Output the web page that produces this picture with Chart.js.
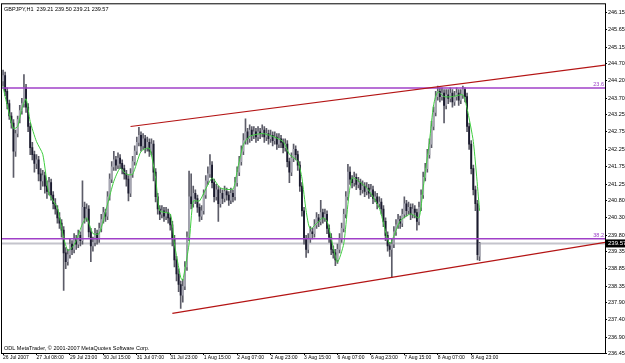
<!DOCTYPE html>
<html>
<head>
<meta charset="utf-8">
<script src="https://cdn.jsdelivr.net/npm/chart.js@4.4.1/dist/chart.umd.min.js"></script>
<style>
  html, body { margin: 0; padding: 0; background: #fff; }
  canvas { display: block; }
</style>
</head>
<body>
<canvas id="gbpChart" width="625" height="363"></canvas>
<script>
// GBPJPY H1 bars (index 0 = first bar on the left)
const opens = [
  244.20,244.35,243.90,243.55,243.20,243.00,242.20,242.70,243.10,243.35,
  243.55,244.00,243.45,242.90,242.30,242.10,241.85,241.95,241.55,241.35,
  241.50,241.20,241.05,241.30,240.95,240.70,240.55,240.30,240.15,239.95,
  239.30,239.05,239.25,239.55,239.40,239.70,239.55,239.80,239.65,240.60,
  240.30,240.55,239.90,239.50,239.60,239.85,239.70,240.00,240.25,240.45,
  240.35,240.90,241.40,241.75,241.95,241.80,242.00,241.85,241.70,241.55,
  241.40,241.00,241.55,241.90,242.20,242.45,242.65,242.35,242.55,242.30,
  242.45,242.20,242.40,241.60,240.90,240.55,240.40,240.50,240.35,240.45,
  240.30,240.10,239.70,239.10,238.70,238.40,238.10,238.35,238.90,239.75,
  240.90,240.70,241.00,240.85,240.60,240.35,240.50,240.95,241.35,241.55,
  241.80,241.30,240.90,241.10,240.70,241.00,240.85,241.05,240.95,240.80,
  241.00,240.90,241.30,241.60,241.90,242.20,242.50,242.75,242.55,242.80,
  242.65,242.75,242.60,242.75,242.70,242.80,242.60,242.70,242.55,242.65,
  242.50,242.60,242.40,242.55,242.45,242.30,242.40,241.90,241.60,242.00,
  242.25,242.10,241.80,241.20,240.50,239.70,239.40,239.70,239.90,239.85,
  240.10,240.30,240.20,240.45,240.30,240.40,240.00,239.75,239.40,239.30,
  239.10,239.40,239.70,240.00,240.40,240.90,241.60,241.40,241.30,241.45,
  241.25,241.30,241.10,241.20,241.05,241.15,241.00,241.10,240.85,240.90,
  240.70,240.75,240.55,240.20,239.80,239.50,239.40,239.55,239.90,240.10,
  240.25,240.15,240.40,240.70,240.50,240.60,240.40,240.55,240.45,240.20,
  240.60,240.95,241.45,241.70,242.10,242.40,242.90,243.30,243.75,243.90,
  243.75,243.85,243.50,243.80,243.70,243.85,243.60,243.75,243.85,243.65,
  243.80,243.95,243.75,242.90,242.40,241.70,241.10,240.70,239.21
];
const highs = [
  244.51,244.45,244.00,243.65,243.30,243.10,242.80,243.20,243.50,243.70,
  244.38,244.10,243.55,243.00,242.45,242.20,242.10,242.05,241.70,241.65,
  241.60,241.35,241.45,241.40,241.05,240.85,240.65,240.45,240.25,240.05,
  239.45,239.40,239.70,239.65,239.85,239.80,239.95,239.90,241.35,240.75,
  240.70,240.65,240.00,239.75,240.00,239.95,240.15,240.40,240.60,240.55,
  241.05,241.55,241.90,242.19,242.05,242.15,242.10,241.95,241.80,241.65,
  241.50,241.70,242.05,242.35,242.60,242.88,242.75,242.70,242.65,242.60,
  242.55,242.55,242.50,241.70,241.00,240.65,240.65,240.60,240.60,240.55,
  240.40,240.20,239.80,239.20,238.85,238.50,238.55,239.05,239.90,241.63,
  241.55,241.20,241.10,240.95,240.70,240.65,241.10,241.50,241.75,242.10,
  241.90,241.40,241.25,241.20,241.15,241.10,241.20,241.15,241.05,241.15,
  241.10,241.45,241.75,242.05,242.35,242.70,243.12,242.85,242.95,242.90,
  242.90,242.85,242.90,242.85,242.95,242.90,242.85,242.80,242.80,242.75,
  242.75,242.70,242.70,242.65,242.55,242.55,242.50,242.00,242.15,242.40,
  242.35,242.20,241.90,241.30,240.60,239.80,239.85,240.05,240.00,240.25,
  240.45,240.40,240.80,240.55,240.55,240.50,240.10,239.85,239.50,239.40,
  239.55,239.85,240.15,240.55,241.05,241.82,241.75,241.50,241.60,241.55,
  241.45,241.40,241.35,241.30,241.30,241.25,241.25,241.20,241.05,241.00,
  240.90,240.85,240.65,240.30,239.90,239.60,239.70,240.05,240.25,240.40,
  240.35,240.55,240.90,240.80,240.75,240.70,240.70,240.65,240.55,240.75,
  241.10,241.60,241.85,242.25,242.55,243.05,243.45,243.90,244.05,244.00,
  244.00,243.95,243.95,243.95,244.00,243.95,243.90,244.00,243.95,243.95,
  244.05,244.00,243.85,243.00,242.50,241.80,241.20,240.80,239.60
];
const lows = [
  244.05,243.78,243.40,243.10,242.85,241.45,242.05,242.60,243.00,243.25,
  243.45,243.30,242.75,242.10,241.95,241.60,241.70,241.35,241.10,241.20,
  241.00,240.85,240.95,240.80,240.55,240.40,240.15,240.00,239.75,238.23,
  238.85,238.95,239.15,239.25,239.30,239.40,239.45,239.50,239.55,240.15,
  240.20,239.75,239.05,239.35,239.50,239.55,239.60,239.90,240.15,240.20,
  240.25,240.80,241.30,241.65,241.65,241.70,241.70,241.55,241.40,241.20,
  240.78,240.90,241.45,241.80,242.10,242.35,242.20,242.25,242.15,242.20,
  242.05,242.10,241.35,240.75,240.40,240.25,240.30,240.20,240.25,240.15,
  239.95,239.50,238.90,238.50,238.20,237.72,237.90,238.25,238.80,239.65,
  240.55,240.60,240.70,240.45,240.20,240.25,240.40,240.85,241.25,241.45,
  241.15,240.75,240.80,240.20,240.60,240.70,240.75,240.80,240.65,240.70,
  240.75,240.80,241.20,241.50,241.80,242.10,242.40,242.40,242.45,242.50,
  242.55,242.45,242.50,242.55,242.60,242.45,242.50,242.40,242.45,242.35,
  242.40,242.25,242.30,242.30,242.15,242.20,241.75,241.30,241.50,241.90,
  241.95,241.65,241.05,240.35,239.55,239.17,239.30,239.60,239.70,239.75,
  240.00,240.05,240.10,240.15,240.20,239.85,239.60,239.25,239.15,238.94,
  239.00,239.30,239.60,239.90,240.30,240.80,241.25,241.15,241.20,241.10,
  241.15,240.95,241.00,240.90,240.95,240.85,240.90,240.70,240.75,240.55,
  240.60,240.40,240.05,239.65,239.35,239.20,238.60,239.45,239.80,240.00,
  240.00,240.05,240.30,240.35,240.40,240.25,240.30,240.30,239.95,240.10,
  240.50,240.85,241.35,241.60,242.00,242.30,242.80,243.20,243.65,243.60,
  243.65,243.00,243.40,243.55,243.60,243.45,243.50,243.65,243.50,243.55,
  243.70,243.60,242.75,242.25,241.55,240.95,240.50,239.10,239.08
];
const closes = [
  244.35,243.90,243.55,243.20,243.00,242.20,242.70,243.10,243.35,243.55,
  244.00,243.45,242.90,242.30,242.10,241.85,241.95,241.55,241.35,241.50,
  241.20,241.05,241.30,240.95,240.70,240.55,240.30,240.15,239.95,239.30,
  239.05,239.25,239.55,239.40,239.70,239.55,239.80,239.65,240.60,240.30,
  240.55,239.90,239.50,239.60,239.85,239.70,240.00,240.25,240.45,240.35,
  240.90,241.40,241.75,241.95,241.80,242.00,241.85,241.70,241.55,241.40,
  241.00,241.55,241.90,242.20,242.45,242.65,242.35,242.55,242.30,242.45,
  242.20,242.40,241.60,240.90,240.55,240.40,240.50,240.35,240.45,240.30,
  240.10,239.70,239.10,238.70,238.40,238.10,238.35,238.90,239.75,240.90,
  240.70,241.00,240.85,240.60,240.35,240.50,240.95,241.35,241.55,241.80,
  241.30,240.90,241.10,240.70,241.00,240.85,241.05,240.95,240.80,241.00,
  240.90,241.30,241.60,241.90,242.20,242.50,242.75,242.55,242.80,242.65,
  242.75,242.60,242.75,242.70,242.80,242.60,242.70,242.55,242.65,242.50,
  242.60,242.40,242.55,242.45,242.30,242.40,241.90,241.60,242.00,242.25,
  242.10,241.80,241.20,240.50,239.70,239.40,239.70,239.90,239.85,240.10,
  240.30,240.20,240.45,240.30,240.40,240.00,239.75,239.40,239.30,239.10,
  239.40,239.70,240.00,240.40,240.90,241.60,241.40,241.30,241.45,241.25,
  241.30,241.10,241.20,241.05,241.15,241.00,241.10,240.85,240.90,240.70,
  240.75,240.55,240.20,239.80,239.50,239.40,239.55,239.90,240.10,240.25,
  240.15,240.40,240.70,240.50,240.60,240.40,240.55,240.45,240.20,240.60,
  240.95,241.45,241.70,242.10,242.40,242.90,243.30,243.75,243.90,243.75,
  243.85,243.50,243.80,243.70,243.85,243.60,243.75,243.85,243.65,243.80,
  243.95,243.75,242.90,242.40,241.70,241.10,240.70,239.25,239.57
];

// green moving average, read at a number of bars
const maBars = [0,1,5,7,9,11,13,16,19,22,26,29,31,33,35,38,40,43,46,50,
  53,56,59,62,66,70,73,75,80,82,85,86,89,91,94,100,104,110,112,115,
  118,124,129,134,137,141,143,145,147,153,155,158,160,163,167,174,180,185,190,195,
  199,201,204,206,208,211,215,220,222,225,228];
const maValues = [244.05,243.75,242.84,242.90,243.41,243.69,243.04,242.47,242.11,240.98,
  240.58,239.73,239.37,239.45,239.65,240.13,240.30,239.85,239.85,240.69,
  241.34,241.71,241.54,241.54,242.19,242.28,241.43,240.50,240.41,239.56,
  238.60,238.52,239.56,240.78,240.78,241.43,241.15,241.12,241.63,242.39,
  242.62,242.70,242.62,242.47,242.11,241.91,241.43,240.50,239.99,240.30,
  240.21,239.45,239.03,239.56,241.43,241.15,240.58,239.56,240.21,240.41,
  240.30,241.15,242.47,243.52,243.89,243.75,243.75,243.80,243.41,242.47,240.50];

// objects drawn on the chart
const fiboLevels = [244.00, 239.70];
const fiboLabels = ["23.6", "38.2"];
const bidPrice = 239.57;
const upperTrendBars = [61, 288];
const upperTrendPrices = [242.90, 244.65];
const lowerTrendBars = [81, 288];
const lowerTrendPrices = [237.58, 239.60];

// axes
const xTickBars = [0,16,32,48,64,80,96,112,128,144,160,176,192,208,224];
const xTickLabels = ["26 Jul 2007","27 Jul 08:00","29 Jul 23:00","30 Jul 15:00","31 Jul 07:00",
  "31 Jul 23:00","1 Aug 15:00","2 Aug 07:00","2 Aug 23:00","3 Aug 15:00","6 Aug 07:00",
  "6 Aug 23:00","7 Aug 15:00","8 Aug 07:00","8 Aug 23:00"];
const yTickValues = [246.15,245.65,245.15,244.70,244.20,243.70,243.25,242.75,242.25,241.75,
  241.25,240.80,240.30,239.80,239.35,238.85,238.35,237.90,237.40,236.90,236.45];

const headerText = "GBPJPY,H1  239.21 239.50 239.21 239.57";
const footerText = "ODL MetaTrader, \u00A9 2001-2007 MetaQuotes Software Corp.";

const FONT = '"Liberation Sans", Arial, sans-serif';
const xMin = -0.5, xMax = 288;

let wickData = [], bodyData = [], bodyColors = [];
for (let i = 0; i < closes.length; i++) {
    wickData.push({ x: i, y: [lows[i], highs[i]] });
    let lo = Math.min(opens[i], closes[i]), hi = Math.max(opens[i], closes[i]);
    if (hi - lo < 0.02) hi = lo + 0.02;
    bodyData.push({ x: i, y: [lo, hi] });
    bodyColors.push(closes[i] >= opens[i] ? "#a6a6b2" : "#1a1a2e");
}
let maData = maBars.map((b, k) => ({ x: b, y: maValues[k] }));

function hLine(price, color, width, order) {
    return {
        type: "line",
        data: [{ x: xMin, y: price }, { x: xMax, y: price }],
        borderColor: color, borderWidth: width, pointRadius: 0, order: order
    };
}

// frame, header/footer, fibo labels and bid box
const decorPlugin = {
    id: "decor",
    afterDraw(chart) {
        const ctx = chart.ctx, a = chart.chartArea, ys = chart.scales.y;
        ctx.save();
        ctx.strokeStyle = "#000";
        ctx.lineWidth = 1;
        ctx.strokeRect(a.left - 0.5, a.top - 0.5, a.right - a.left + 1, a.bottom - a.top + 1);

        ctx.font = "5.5px " + FONT;
        ctx.fillStyle = "#000";
        ctx.textBaseline = "middle";
        ctx.textAlign = "left";
        ctx.fillText(headerText, a.left + 2, a.top + 5);
        ctx.fillText(footerText, a.left + 2, a.bottom - 5);

        ctx.fillStyle = "#9a3fc6";
        ctx.textAlign = "right";
        ctx.textBaseline = "bottom";
        fiboLevels.forEach((lv, k) => {
            ctx.fillText(fiboLabels[k], a.right - 1, ys.getPixelForValue(lv) - 0.5);
        });

        let by = ys.getPixelForValue(bidPrice);
        ctx.fillStyle = "#000";
        ctx.fillRect(a.right + 1, by - 4, 625 - a.right - 1, 8);
        ctx.fillStyle = "#fff";
        ctx.textAlign = "left";
        ctx.textBaseline = "middle";
        ctx.font = "6px " + FONT;
        ctx.fillText(bidPrice.toFixed(2), a.right + 3, by);
        ctx.restore();
    }
};

let ctx = document.getElementById("gbpChart").getContext("2d");
new Chart(ctx, {
    type: "bar",
    plugins: [decorPlugin],
    data: {
        datasets: [
            hLine(bidPrice, "#c4c4cc", 2, 9),
            hLine(fiboLevels[0], "#a040c8", 1.5, 1),
            hLine(fiboLevels[1], "#a040c8", 1.5, 1),
            {
                type: "bar", data: wickData, backgroundColor: "#5c5c68",
                barThickness: 1, grouped: false, order: 6
            },
            {
                type: "bar", data: bodyData, backgroundColor: bodyColors,
                barThickness: 1.2, grouped: false, order: 5
            },
            {
                type: "line", data: maData, borderColor: "#3fce3f", borderWidth: 1,
                pointRadius: 0, spanGaps: true, tension: 0.2, order: 2
            },
            {
                type: "line", data: upperTrendBars.map((b, k) => ({ x: b, y: upperTrendPrices[k] })),
                borderColor: "#b41414", borderWidth: 1.2, pointRadius: 0, order: 0
            },
            {
                type: "line", data: lowerTrendBars.map((b, k) => ({ x: b, y: lowerTrendPrices[k] })),
                borderColor: "#b41414", borderWidth: 1.2, pointRadius: 0, order: 0
            }
        ]
    },
    options: {
        responsive: false,
        animation: false,
        devicePixelRatio: 1,
        layout: { padding: { left: 2, top: 2, right: 0, bottom: 0 } },
        plugins: { legend: { display: false }, tooltip: { enabled: false } },
        scales: {
            x: {
                type: "linear", min: xMin, max: xMax, offset: false,
                afterBuildTicks: function (scale) {
                    scale.ticks = xTickBars.map(v => ({ value: v }));
                },
                afterFit: function (scale) { scale.height = 10; },
                grid: { drawOnChartArea: false, tickLength: 2, color: "#000", offset: false },
                border: { display: false },
                ticks: {
                    autoSkip: false, maxRotation: 0, align: "start", padding: 0,
                    color: "#000", font: { size: 5, family: FONT },
                    callback: function (value) {
                        let k = xTickBars.indexOf(value);
                        return k >= 0 ? xTickLabels[k] : "";
                    }
                }
            },
            y: {
                position: "right", min: 236.45, max: 246.38,
                afterBuildTicks: function (scale) {
                    scale.ticks = yTickValues.map(v => ({ value: v }));
                },
                afterFit: function (scale) { scale.width = 20; },
                grid: { drawOnChartArea: false, tickLength: 2, color: "#000" },
                border: { display: false },
                ticks: {
                    autoSkip: false, padding: 1, color: "#000",
                    font: { size: 5.5, family: FONT },
                    callback: function (value) { return Number(value).toFixed(2); }
                }
            }
        }
    }
});
</script>
</body>
</html>
